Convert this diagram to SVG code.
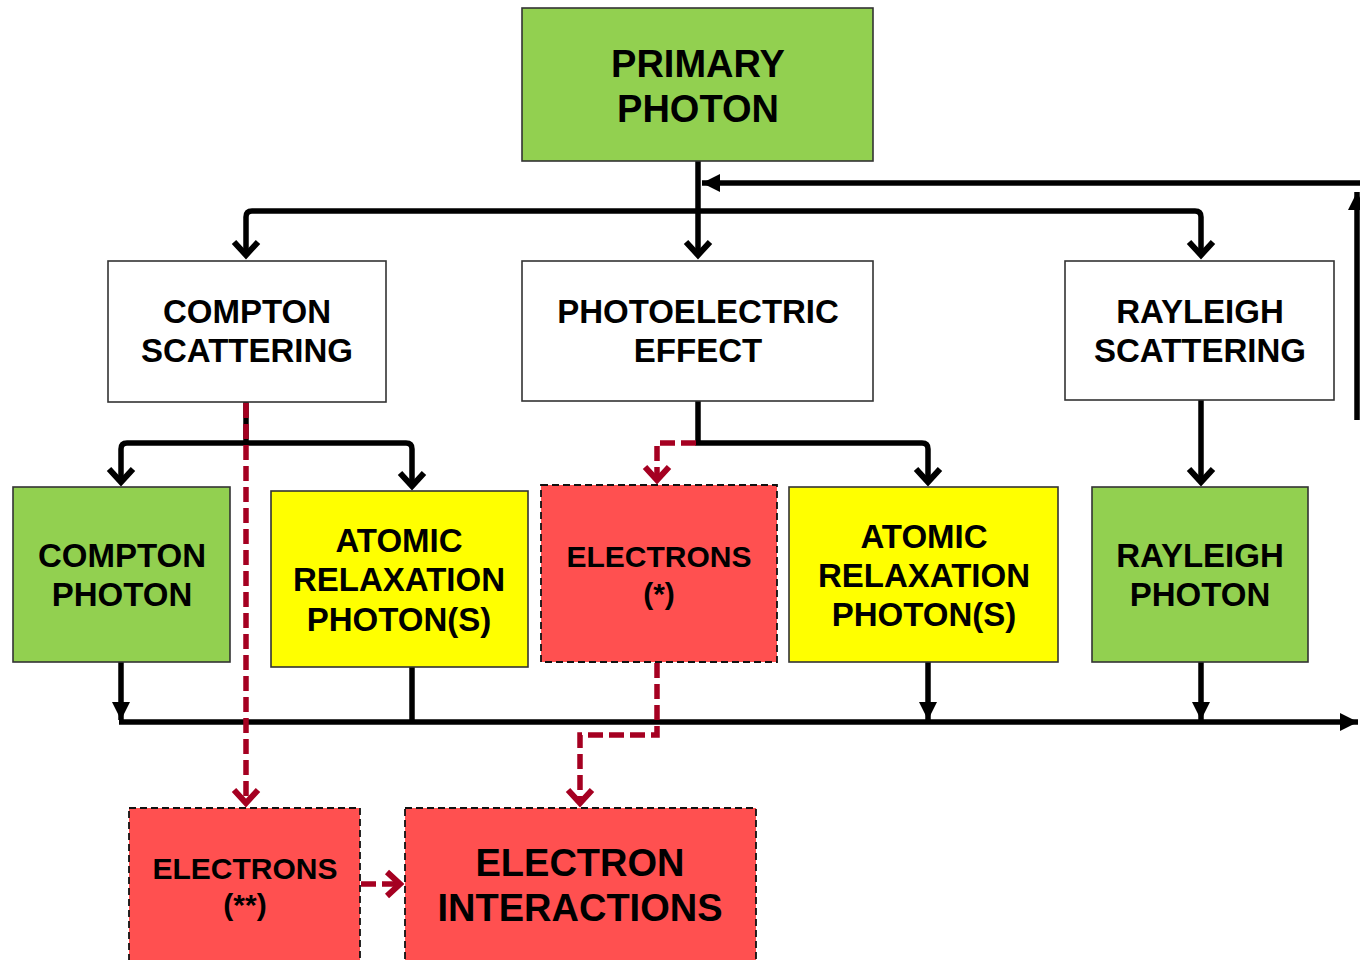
<svg xmlns="http://www.w3.org/2000/svg" width="1360" height="960" viewBox="0 0 1360 960">
<style>
.box{stroke:#333;stroke-width:1.6}
.green{fill:#92D050}
.white{fill:#FFFFFF}
.yellow{fill:#FFFF00}
.red{fill:#FF5050;stroke:#111;stroke-width:1.8;stroke-dasharray:7 4}
text{font-family:"Liberation Sans",Arial,sans-serif;font-weight:bold;fill:#000;text-anchor:middle}
.t38{font-size:38px}
.t33{font-size:33px}
.t30{font-size:30px}
.blk{fill:none;stroke:#000;stroke-width:5.5}
.rd{fill:none;stroke:#A50021;stroke-width:5.5;stroke-dasharray:15 6}
</style>
<defs>
<marker id="vb" markerUnits="userSpaceOnUse" viewBox="-20 -16 24 32" refX="0" refY="0" markerWidth="24" markerHeight="32" orient="auto">
<path d="M-14,-12 L-1,0 L-14,12" fill="none" stroke="#000" stroke-width="6"/>
</marker>
<marker id="vr" markerUnits="userSpaceOnUse" viewBox="-20 -16 24 32" refX="0" refY="0" markerWidth="24" markerHeight="32" orient="auto">
<path d="M-14,-12 L-1,0 L-14,12" fill="none" stroke="#A50021" stroke-width="6"/>
</marker>
<marker id="tb" markerUnits="userSpaceOnUse" viewBox="-20 -12 22 24" refX="0" refY="0" markerWidth="22" markerHeight="24" orient="auto">
<path d="M-18,-9 L0,0 L-18,9 Z" fill="#000"/>
</marker>
</defs>

<g id="connectors">
<path class="blk" d="M698,161 L698,256" marker-end="url(#vb)"/>
<path class="blk" d="M698,211 L252,211 Q246,211 246,217 L246,256" marker-end="url(#vb)"/>
<path class="blk" d="M698,211 L1195,211 Q1201,211 1201,217 L1201,256" marker-end="url(#vb)"/>
<path class="blk" d="M1360,183 L702,183" marker-end="url(#tb)"/>
<path class="blk" d="M1357,420 L1357,192" marker-end="url(#tb)"/>
<path class="blk" d="M246,402 L246,443"/>
<path class="blk" d="M246,443 L127,443 Q121,443 121,449 L121,483" marker-end="url(#vb)"/>
<path class="blk" d="M246,443 L406,443 Q412,443 412,449 L412,487" marker-end="url(#vb)"/>
<path class="blk" d="M698,401 L698,443 L922,443 Q928,443 928,449 L928,483" marker-end="url(#vb)"/>
<path class="blk" d="M1201,400 L1201,483" marker-end="url(#vb)"/>
<path class="blk" d="M121,662 L121,720" marker-end="url(#tb)"/>
<path class="blk" d="M412,667 L412,722"/>
<path class="blk" d="M928,662 L928,720" marker-end="url(#tb)"/>
<path class="blk" d="M1201,662 L1201,720" marker-end="url(#tb)"/>
<path class="blk" d="M119,722 L1358,722" marker-end="url(#tb)"/>
<path class="rd" d="M246,403 L246,804" marker-end="url(#vr)"/>
<path class="rd" d="M696,443 L657,443 L657,481" marker-end="url(#vr)"/>
<path class="rd" d="M657,663 L657,735 L580,735 L580,804" marker-end="url(#vr)"/>
<path class="rd" d="M361,884 L401,884" marker-end="url(#vr)"/>
</g>

<g id="primary-photon">
<rect class="box green" x="522" y="8" width="351" height="153"/>
<text class="t38" x="698" y="77">PRIMARY</text>
<text class="t38" x="698" y="122">PHOTON</text>
</g>

<g id="compton-scattering">
<rect class="box white" x="108" y="261" width="278" height="141"/>
<text class="t33" x="247" y="323">COMPTON</text>
<text class="t33" x="247" y="362">SCATTERING</text>
</g>

<g id="photoelectric-effect">
<rect class="box white" x="522" y="261" width="351" height="140"/>
<text class="t33" x="698" y="323">PHOTOELECTRIC</text>
<text class="t33" x="698" y="362">EFFECT</text>
</g>

<g id="rayleigh-scattering">
<rect class="box white" x="1065" y="261" width="269" height="139"/>
<text class="t33" x="1200" y="323">RAYLEIGH</text>
<text class="t33" x="1200" y="362">SCATTERING</text>
</g>

<g id="compton-photon">
<rect class="box green" x="13" y="487" width="217" height="175"/>
<text class="t33" x="122" y="567">COMPTON</text>
<text class="t33" x="122" y="606">PHOTON</text>
</g>

<g id="atomic-relaxation-1">
<rect class="box yellow" x="271" y="491" width="257" height="176"/>
<text class="t33" x="399" y="552">ATOMIC</text>
<text class="t33" x="399" y="591">RELAXATION</text>
<text class="t33" x="399" y="631">PHOTON(S)</text>
</g>

<g id="electrons-star">
<rect class="red" x="541" y="485" width="236" height="177"/>
<text class="t30" x="659" y="567">ELECTRONS</text>
<text class="t30" x="659" y="604">(*)</text>
</g>

<g id="atomic-relaxation-2">
<rect class="box yellow" x="789" y="487" width="269" height="175"/>
<text class="t33" x="924" y="548">ATOMIC</text>
<text class="t33" x="924" y="587">RELAXATION</text>
<text class="t33" x="924" y="626">PHOTON(S)</text>
</g>

<g id="rayleigh-photon">
<rect class="box green" x="1092" y="487" width="216" height="175"/>
<text class="t33" x="1200" y="567">RAYLEIGH</text>
<text class="t33" x="1200" y="606">PHOTON</text>
</g>

<g id="electrons-starstar">
<rect class="red" x="129" y="808" width="231" height="170"/>
<text class="t30" x="245" y="879">ELECTRONS</text>
<text class="t30" x="245" y="915">(**)</text>
</g>

<g id="electron-interactions">
<rect class="red" x="405" y="808" width="351" height="170"/>
<text class="t38" x="580" y="876">ELECTRON</text>
<text class="t38" x="580" y="921">INTERACTIONS</text>
</g>
</svg>
